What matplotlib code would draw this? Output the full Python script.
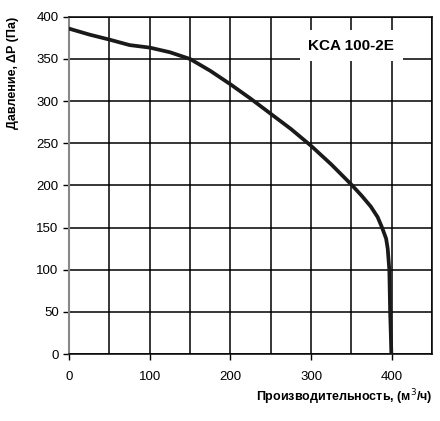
import matplotlib.pyplot as plt
from matplotlib.ticker import MultipleLocator

plt.rcParams['font.family'] = ['Liberation Sans', 'DejaVu Sans']

# Curve
flow = [0, 25, 50, 75, 100, 125, 150, 175, 200, 225, 250, 275, 300, 325, 350,
        363, 374, 382.5, 388, 393, 395, 397, 397.5, 398, 398.8, 399.5]
pressure = [386, 379, 373, 366.5, 363.5, 358, 350, 336, 320, 303, 285, 267, 247, 225, 201,
            187.5, 175, 162.5, 150, 137, 125, 100, 75, 50, 25, 0]

model = "KCA 100-2E"

fig = plt.figure(figsize=(4.4, 4.21), dpi=100)
ax = fig.add_axes([0.157, 0.159, 0.825, 0.801])

ax.plot(flow, pressure, color='#1a1a1a', lw=2.7, solid_capstyle='round', zorder=3)

ax.set_xlim(0, 450)
ax.set_ylim(0, 400)
ax.xaxis.set_major_locator(MultipleLocator(100))
ax.xaxis.set_minor_locator(MultipleLocator(50))
ax.yaxis.set_major_locator(MultipleLocator(50))
ax.grid(which='both', color='black', lw=1.1)
ax.set_axisbelow(True)
for s in ax.spines.values():
    s.set_color('black')
    s.set_linewidth(1.1)
ax.spines['left'].set_color('#888888')
ax.spines['left'].set_linewidth(1.5)
ax.tick_params(which='both', direction='out', length=4, width=1, labelsize=9.5, colors='black')
ax.tick_params(axis='x', which='major', pad=8)
ax.tick_params(axis='x', which='minor', length=0)

ax.text(350, 366, model, ha='center', va='center', fontsize=11, fontweight='bold',
        bbox=dict(facecolor='white', edgecolor='none', pad=6), zorder=4)

fig.text(0.03, 0.96, "Давление, \u0394P (Па)", rotation=90, ha='center', va='top',
         fontsize=9, fontweight='bold')
fig.text(0.982, 0.057, "Производительность, (м$^3$/ч)", ha='right', va='center',
         fontsize=9, fontweight='bold')

fig.savefig("out.png", dpi=100)
